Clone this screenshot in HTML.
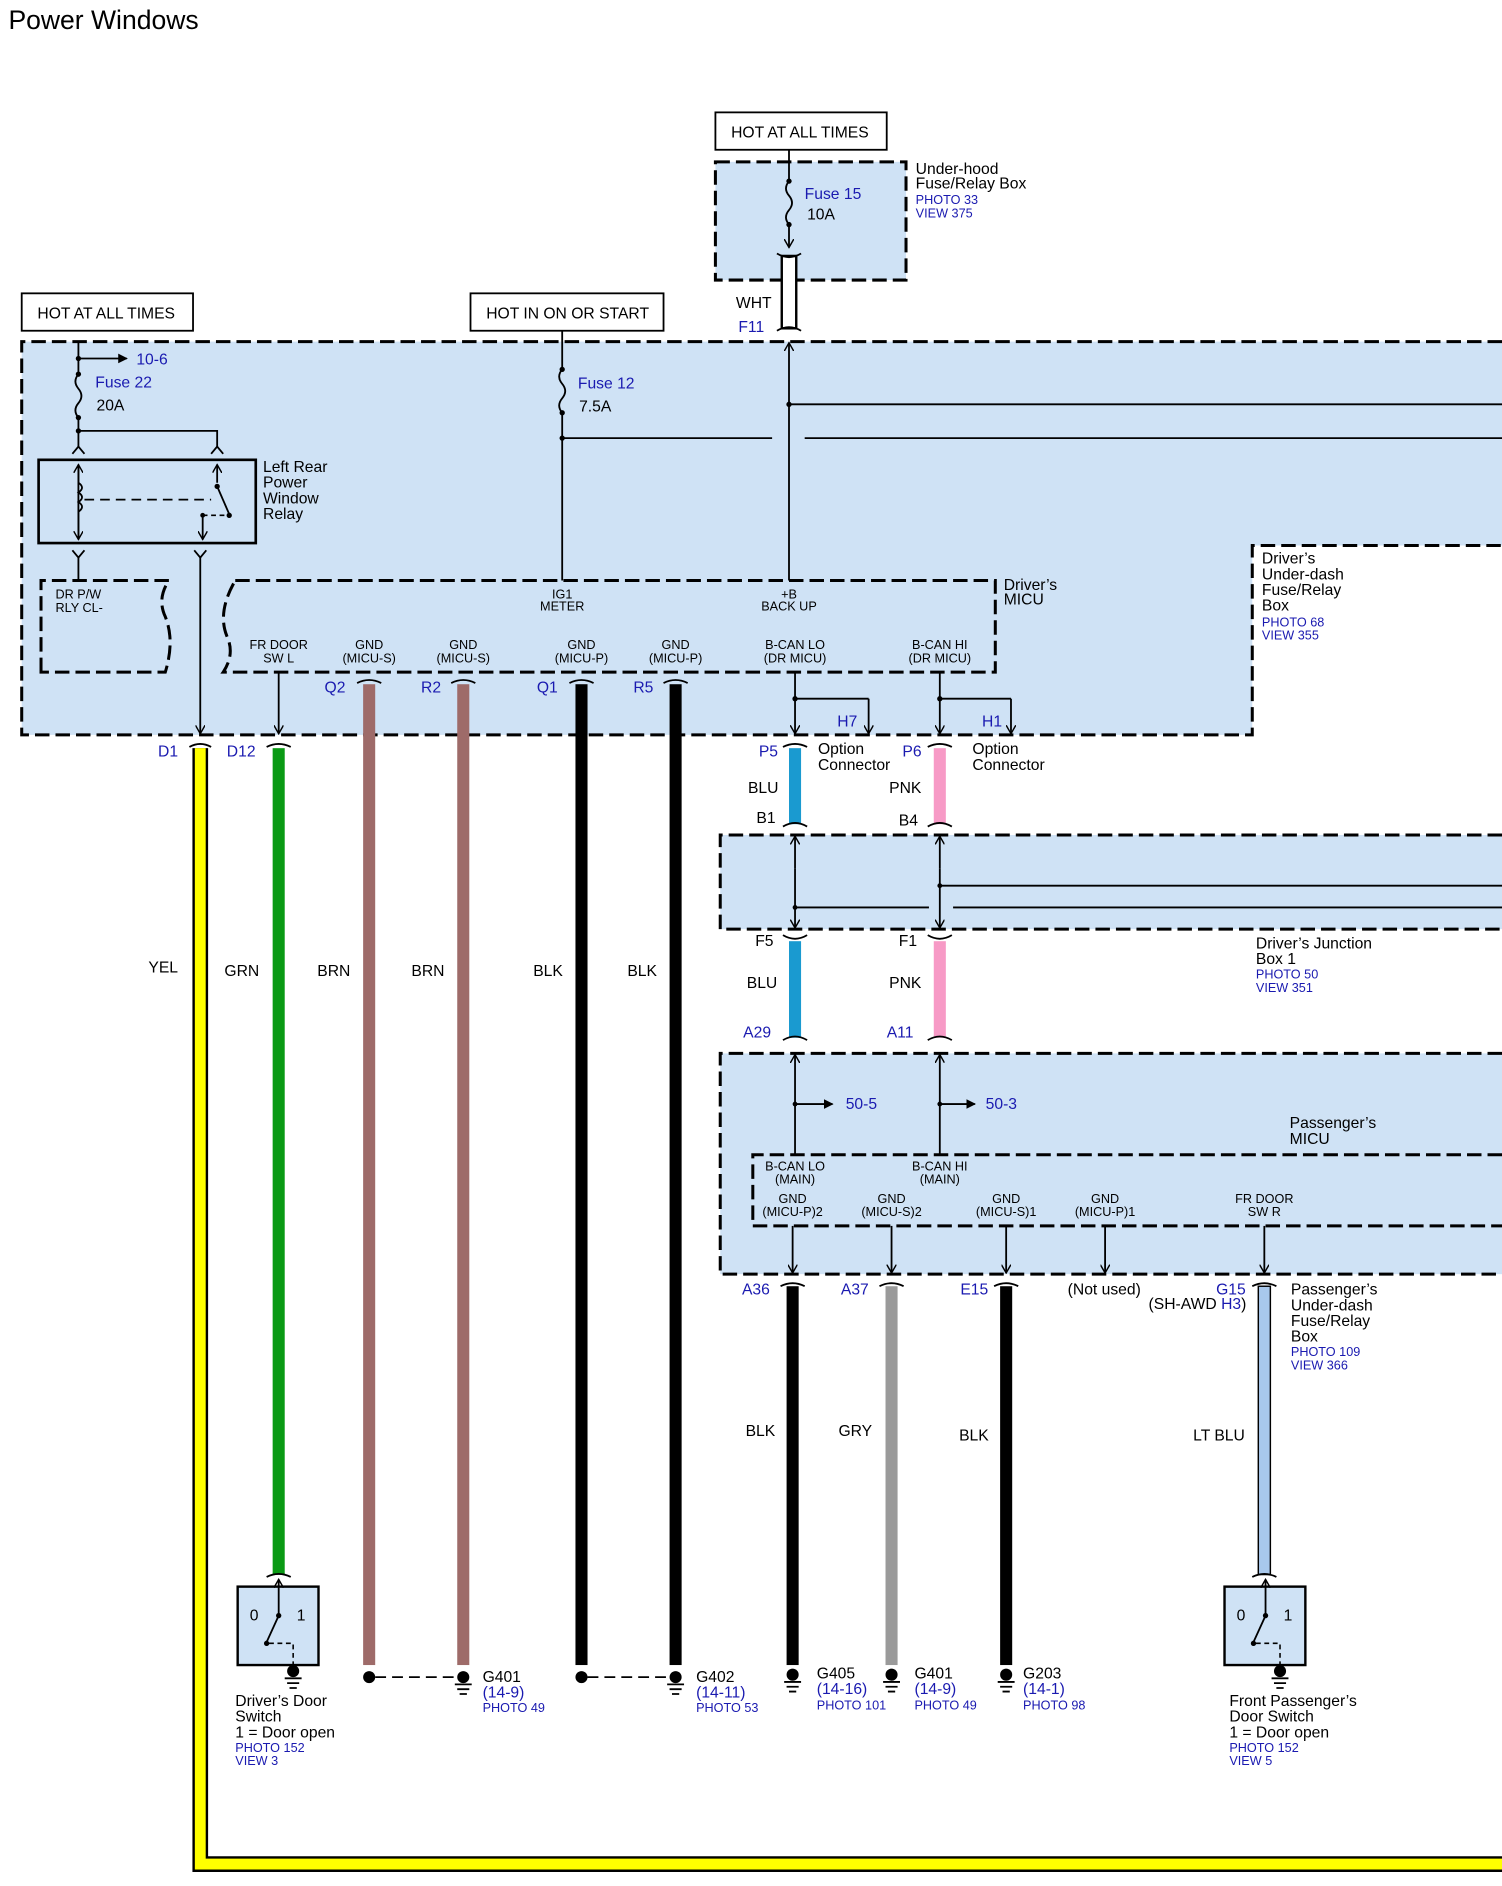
<!DOCTYPE html>
<html><head><meta charset="utf-8"><style>html,body{margin:0;padding:0;background:#fff}svg{display:block}</style></head><body>
<svg width="1502" height="1886" viewBox="0 0 1245 1563" xmlns="http://www.w3.org/2000/svg" font-family="Liberation Sans, Arial, sans-serif">
<defs>
<marker id="ar" markerWidth="8" markerHeight="8" refX="7" refY="4" orient="auto" markerUnits="userSpaceOnUse"><path d="M0,0 L7,4 L0,8" fill="none" stroke="#000" stroke-width="1.2"/></marker>
<marker id="af" markerWidth="8" markerHeight="8" refX="7" refY="4" orient="auto" markerUnits="userSpaceOnUse"><path d="M0,0 L8,4 L0,8Z" fill="#000"/></marker>
</defs>
<style>
.t{font-size:13px;fill:#000}
.b{font-size:13px;fill:#1a1ab0}
.s{font-size:10.5px;fill:#000}
.sb{font-size:10.5px;fill:#1a1ab0}
.ln{stroke:#000;stroke-width:1.5;fill:none}
.d{stroke:#000;stroke-width:2.5;fill:none;stroke-dasharray:12 5}
.bx{fill:#cfe2f5}
</style>
<text x="7" y="24" style="font-size:22px">Power Windows</text>

<!-- Under-hood -->
<rect x="593" y="93" width="142" height="31" fill="#fff" stroke="#000" stroke-width="1.5"/>
<text x="606" y="114" class="t">HOT AT ALL TIMES</text>
<rect x="593" y="134" width="158" height="98" class="bx"/>
<rect x="593" y="134" width="158" height="98" class="d"/>
<line x1="654" y1="124" x2="654" y2="150" class="ln"/>
<circle cx="654" cy="150" r="2.2"/>
<path d="M654,150 q-5,6 0,12 q5,6 0,12 q-5,6 0,12" class="ln"/>
<circle cx="654" cy="186" r="2.2"/>
<line x1="654" y1="186" x2="654" y2="205" class="ln" marker-end="url(#ar)"/>
<text x="667" y="165" class="b">Fuse 15</text><text x="669" y="182" class="t">10A</text>
<text x="759" y="144" class="t">Under-hood</text><text x="759" y="156" class="t">Fuse/Relay Box</text>
<text x="759" y="169" class="sb">PHOTO 33</text><text x="759" y="180" class="sb">VIEW 375</text>
<rect x="648" y="212" width="12" height="60" fill="#fff" stroke="#000" stroke-width="2"/>
<path d="M644,210 q10,6 20,0 M644,274 q10,-6 20,0" class="ln"/>
<text x="610" y="255" class="t">WHT</text><text x="612" y="275" class="b">F11</text>

<rect x="18" y="243" width="142" height="31" fill="#fff" stroke="#000" stroke-width="1.5"/>
<text x="31" y="264" class="t">HOT AT ALL TIMES</text>
<rect x="390" y="243" width="160" height="31" fill="#fff" stroke="#000" stroke-width="1.5"/>
<text x="403" y="264" class="t">HOT IN ON OR START</text>

<!-- Driver's under-dash box -->
<path d="M18,283 H1245 V452 H1038 V609 H18 Z" class="bx"/>
<path d="M1245,283 H18 V609 H1038 V452 H1245" class="d"/>
<text x="1046" y="467" class="t">Driver’s</text><text x="1046" y="480" class="t">Under-dash</text>
<text x="1046" y="493" class="t">Fuse/Relay</text><text x="1046" y="506" class="t">Box</text>
<text x="1046" y="519" class="sb">PHOTO 68</text><text x="1046" y="530" class="sb">VIEW 355</text>

<!-- Fuse 22 -->
<line x1="65" y1="283" x2="65" y2="310" class="ln"/>
<circle cx="65" cy="297" r="2.2"/>
<line x1="65" y1="297" x2="105" y2="297" class="ln" marker-end="url(#af)"/>
<text x="113" y="302" class="b">10-6</text>
<circle cx="65" cy="310" r="2.2"/>
<path d="M65,310 q-5,6 0,12 q5,6 0,12 q-5,6 0,12" class="ln"/>
<circle cx="65" cy="346" r="2.2"/>
<text x="79" y="321" class="b">Fuse 22</text><text x="80" y="340" class="t">20A</text>
<path d="M65,346 V370 M65,357 H180 V370" class="ln"/>
<circle cx="65" cy="357" r="2.2"/>
<path d="M60,376 l5,-6 l5,6 M175,376 l5,-6 l5,6" class="ln"/>
<rect x="32" y="381" width="180" height="69" fill="none" stroke="#000" stroke-width="2.2"/>
<line x1="65" y1="447" x2="65" y2="385" class="ln" marker-end="url(#ar)"/>
<path d="M65,400 q6,4 0,8 q6,4 0,8 q6,4 0,8" fill="#cfe2f5" stroke="#000" stroke-width="1.5"/>
<line x1="65" y1="385" x2="65" y2="447" class="ln" marker-end="url(#ar)"/>
<path d="M70,414 H175" stroke="#000" stroke-width="1.5" stroke-dasharray="8 5"/>
<line x1="180" y1="400" x2="180" y2="385" class="ln" marker-end="url(#ar)"/>
<circle cx="180" cy="403" r="2.2"/><path d="M180,403 L190,426" class="ln"/><circle cx="190" cy="427" r="2.2"/>
<path d="M168,427 H188" stroke="#000" stroke-width="1.3" stroke-dasharray="4 3"/>
<circle cx="168" cy="427" r="2"/>
<line x1="168" y1="427" x2="168" y2="447" class="ln" marker-end="url(#ar)"/>
<text x="218" y="391" class="t">Left Rear</text><text x="218" y="404" class="t">Power</text>
<text x="218" y="417" class="t">Window</text><text x="218" y="430" class="t">Relay</text>
<path d="M60,456 l5,6 l5,-6 M161,456 l5,6 l5,-6" class="ln"/>
<path d="M65,462 V481" class="ln"/>
<line x1="166" y1="462" x2="166" y2="608" class="ln" marker-end="url(#ar)"/>

<!-- DR P/W box -->
<path d="M34,557 V481 H140 q-10,15 -3,30 q8,20 0,46 Z" stroke="#000" stroke-width="2.5" fill="none" stroke-dasharray="12 5"/>
<text x="46" y="496" class="s">DR P/W</text><text x="46" y="507" class="s">RLY CL-</text>
<!-- Driver's MICU -->
<path d="M195,481 H825 V557 H185 q10,-15 3,-30 q-8,-20 7,-46" class="d"/>
<text x="832" y="489" class="t">Driver’s</text><text x="832" y="501" class="t">MICU</text>
<g text-anchor="middle" class="s" font-size="10.5">
<text x="466" y="496">IG1</text><text x="466" y="506">METER</text>
<text x="654" y="496">+B</text><text x="654" y="506">BACK UP</text>
<text x="231" y="538">FR DOOR</text><text x="231" y="549">SW L</text>
<text x="306" y="538">GND</text><text x="306" y="549">(MICU-S)</text>
<text x="384" y="538">GND</text><text x="384" y="549">(MICU-S)</text>
<text x="482" y="538">GND</text><text x="482" y="549">(MICU-P)</text>
<text x="560" y="538">GND</text><text x="560" y="549">(MICU-P)</text>
<text x="659" y="538">B-CAN LO</text><text x="659" y="549">(DR MICU)</text>
<text x="779" y="538">B-CAN HI</text><text x="779" y="549">(DR MICU)</text>
</g>
<!-- Fuse 12 -->
<path d="M466,274 V306" class="ln"/><circle cx="466" cy="306" r="2.2"/>
<path d="M466,306 q-5,6 0,12 q5,6 0,12 q-5,6 0,12" class="ln"/><circle cx="466" cy="342" r="2.2"/>
<path d="M466,342 V481 M466,363 H640 M667,363 H1245" class="ln"/><circle cx="466" cy="363" r="2.2"/>
<text x="479" y="322" class="b">Fuse 12</text><text x="480" y="341" class="t">7.5A</text>
<line x1="654" y1="481" x2="654" y2="284" class="ln" marker-end="url(#ar)"/>
<path d="M654,335 H1245" class="ln"/><circle cx="654" cy="335" r="2.2"/>

<!-- wires from MICU -->
<line x1="231" y1="557" x2="231" y2="608" class="ln" marker-end="url(#ar)"/>
<line x1="659" y1="557" x2="659" y2="608" class="ln" marker-end="url(#ar)"/>
<path d="M659,579 H720" class="ln"/><circle cx="659" cy="579" r="2.2"/>
<line x1="720" y1="579" x2="720" y2="608" class="ln" marker-end="url(#ar)"/>
<line x1="779" y1="557" x2="779" y2="608" class="ln" marker-end="url(#ar)"/>
<path d="M779,579 H838" class="ln"/><circle cx="779" cy="579" r="2.2"/>
<line x1="838" y1="579" x2="838" y2="608" class="ln" marker-end="url(#ar)"/>
<text x="694" y="602" class="b">H7</text><text x="814" y="602" class="b">H1</text>

<!-- thick wires -->
<path d="M166,620 V1545 H1245" stroke="#000" stroke-width="13" fill="none"/>
<path d="M166,620 V1545 H1245" stroke="#ffff00" stroke-width="9" fill="none"/>
<rect x="226" y="620" width="10" height="685" fill="#0a9a14"/>
<rect x="301" y="567" width="10" height="813" fill="#9e6b69"/>
<rect x="379" y="567" width="10" height="813" fill="#9e6b69"/>
<rect x="477" y="567" width="10" height="813" fill="#000"/>
<rect x="555" y="567" width="10" height="813" fill="#000"/>
<rect x="654" y="620" width="10" height="63" fill="#1a9ad0"/>
<rect x="774" y="620" width="10" height="63" fill="#f79ac6"/>
<rect x="654" y="780" width="10" height="80" fill="#1a9ad0"/>
<rect x="774" y="780" width="10" height="80" fill="#f79ac6"/>
<rect x="652" y="1066" width="10" height="314" fill="#000"/>
<rect x="734" y="1066" width="10" height="314" fill="#9a9a9a"/>
<rect x="829" y="1066" width="10" height="314" fill="#000"/>
<rect x="1043" y="1066" width="10" height="239" fill="#a8c8ec" stroke="#000" stroke-width="1.2"/>
<!-- connector caps -->
<g class="ln" stroke-width="2">
<path d="M157,619 q9,-5 18,0 M221,619 q10,-5 20,0 M296,566 q10,-5 20,0 M374,566 q10,-5 20,0 M472,566 q10,-5 20,0 M550,566 q10,-5 20,0"/>
<path d="M649,619 q10,-5 20,0 M769,619 q10,-5 20,0 M649,685 q10,-6 20,0 M769,685 q10,-6 20,0"/>
<path d="M649,775 q10,6 20,0 M769,775 q10,6 20,0 M649,862 q10,-6 20,0 M769,862 q10,-6 20,0"/>
<path d="M647,1066 q10,-5 20,0 M729,1066 q10,-5 20,0 M824,1066 q10,-5 20,0 M1038,1066 q10,-5 20,0 M221,1307 q10,-5 20,0 M1038,1307 q10,-5 20,0"/>
</g>
<g class="b">
<text x="131" y="627">D1</text><text x="188" y="627">D12</text>
<text x="269" y="574">Q2</text><text x="349" y="574">R2</text><text x="445" y="574">Q1</text><text x="525" y="574">R5</text>
<text x="629" y="627">P5</text><text x="748" y="627">P6</text>
<text x="616" y="860">A29</text><text x="735" y="860">A11</text>
<text x="615" y="1073">A36</text><text x="697" y="1073">A37</text><text x="796" y="1073">E15</text>
<text x="880" y="1050">E16</text><text x="1008" y="1073">G15</text>
</g>
<g class="t">
<text x="678" y="625">Option</text><text x="678" y="638">Connector</text>
<text x="806" y="625">Option</text><text x="806" y="638">Connector</text>
<text x="620" y="657">BLU</text><text x="737" y="657">PNK</text>
<text x="627" y="682">B1</text><text x="745" y="684">B4</text>
<text x="626" y="784">F5</text><text x="745" y="784">F1</text>
<text x="619" y="819">BLU</text><text x="737" y="819">PNK</text>
<text x="123" y="806">YEL</text><text x="186" y="809">GRN</text><text x="263" y="809">BRN</text><text x="341" y="809">BRN</text>
<text x="442" y="809">BLK</text><text x="520" y="809">BLK</text>
<text x="618" y="1190">BLK</text><text x="695" y="1190">GRY</text><text x="795" y="1194">BLK</text><text x="989" y="1194">LT BLU</text>
<text x="885" y="1073">(Not used)</text><text x="952" y="1085">(SH-AWD <tspan fill="#1a1ab0">H3</tspan>)</text>
</g>

<!-- Junction box -->
<rect x="597" y="692" width="648" height="78" class="bx"/>
<path d="M1245,692 H597 V770 H1245" class="d"/>
<line x1="659" y1="720" x2="659" y2="693" class="ln" marker-end="url(#ar)"/>
<line x1="659" y1="720" x2="659" y2="769" class="ln" marker-end="url(#ar)"/>
<line x1="779" y1="720" x2="779" y2="693" class="ln" marker-end="url(#ar)"/>
<line x1="779" y1="720" x2="779" y2="769" class="ln" marker-end="url(#ar)"/>
<path d="M659,752 H770 M790,752 H1245 M779,734 H1245" class="ln"/>
<circle cx="659" cy="752" r="2"/><circle cx="779" cy="734" r="2"/>
<text x="1041" y="786" class="t">Driver’s Junction</text><text x="1041" y="799" class="t">Box 1</text>
<text x="1041" y="811" class="sb">PHOTO 50</text><text x="1041" y="822" class="sb">VIEW 351</text>

<!-- Passenger MICU -->
<rect x="597" y="873" width="648" height="183" class="bx"/>
<path d="M1245,873 H597 V1056 H1245" class="d"/>
<path d="M1245,957 H624 V1016 H1245" class="d"/>
<line x1="659" y1="957" x2="659" y2="874" class="ln" marker-end="url(#ar)"/>
<line x1="779" y1="957" x2="779" y2="874" class="ln" marker-end="url(#ar)"/>
<line x1="659" y1="915" x2="690" y2="915" class="ln" marker-end="url(#af)"/><circle cx="659" cy="915" r="2"/>
<line x1="779" y1="915" x2="808" y2="915" class="ln" marker-end="url(#af)"/><circle cx="779" cy="915" r="2"/>
<text x="701" y="919" class="b">50-5</text><text x="817" y="919" class="b">50-3</text>
<text x="1069" y="935" class="t">Passenger’s</text><text x="1069" y="948" class="t">MICU</text>
<g text-anchor="middle" class="s" font-size="10.5">
<text x="659" y="970">B-CAN LO</text><text x="659" y="981">(MAIN)</text>
<text x="779" y="970">B-CAN HI</text><text x="779" y="981">(MAIN)</text>
<text x="657" y="997">GND</text><text x="657" y="1008">(MICU-P)2</text>
<text x="739" y="997">GND</text><text x="739" y="1008">(MICU-S)2</text>
<text x="834" y="997">GND</text><text x="834" y="1008">(MICU-S)1</text>
<text x="916" y="997">GND</text><text x="916" y="1008">(MICU-P)1</text>
<text x="1048" y="997">FR DOOR</text><text x="1048" y="1008">SW R</text>
</g>
<g>
<line x1="657" y1="1016" x2="657" y2="1055" class="ln" marker-end="url(#ar)"/>
<line x1="739" y1="1016" x2="739" y2="1055" class="ln" marker-end="url(#ar)"/>
<line x1="834" y1="1016" x2="834" y2="1055" class="ln" marker-end="url(#ar)"/>
<line x1="916" y1="1016" x2="916" y2="1055" class="ln" marker-end="url(#ar)"/>
<line x1="1048" y1="1016" x2="1048" y2="1055" class="ln" marker-end="url(#ar)"/>
</g>
<text x="1070" y="1073" class="t">Passenger’s</text><text x="1070" y="1086" class="t">Under-dash</text>
<text x="1070" y="1099" class="t">Fuse/Relay</text><text x="1070" y="1112" class="t">Box</text>
<text x="1070" y="1124" class="sb">PHOTO 109</text><text x="1070" y="1135" class="sb">VIEW 366</text>

<!-- switches -->
<g id="sw">
<rect x="197" y="1315" width="67" height="65" fill="#cfe2f5" stroke="#000" stroke-width="2"/>
<line x1="231" y1="1338" x2="231" y2="1309" class="ln" marker-end="url(#ar)"/>
<circle cx="231" cy="1339" r="2.2"/><path d="M231,1339 L221,1361" class="ln"/><circle cx="221" cy="1362" r="2.2"/>
<path d="M223,1362 H243 V1385" stroke="#000" stroke-width="1.3" fill="none" stroke-dasharray="4 3"/>
<text x="207" y="1343" class="t">0</text><text x="246" y="1343" class="t">1</text>
<circle cx="243" cy="1385" r="5"/><path d="M236,1391 H250 M238,1395 H248 M240,1399 H246" class="ln" stroke-width="1.2"/>
</g>
<use href="#sw" transform="translate(818,0)"/>
<text x="195" y="1414" class="t">Driver’s Door</text><text x="195" y="1427" class="t">Switch</text>
<text x="195" y="1440" class="t">1 = Door open</text><text x="195" y="1452" class="sb">PHOTO 152</text><text x="195" y="1463" class="sb">VIEW 3</text>
<text x="1019" y="1414" class="t">Front Passenger’s</text><text x="1019" y="1427" class="t">Door Switch</text>
<text x="1019" y="1440" class="t">1 = Door open</text><text x="1019" y="1452" class="sb">PHOTO 152</text><text x="1019" y="1463" class="sb">VIEW 5</text>

<!-- grounds -->
<circle cx="306" cy="1390" r="5"/><circle cx="482" cy="1390" r="5"/>
<path d="M311,1390 H379 M487,1390 H555" stroke="#000" stroke-width="1.5" stroke-dasharray="9 5"/>
<g id="gd"><circle cx="384" cy="1390" r="5"/><path d="M377,1396 H391 M379,1400 H389 M381,1404 H387" class="ln" stroke-width="1.2"/></g>
<use href="#gd" transform="translate(176,0)"/>
<use href="#gd" transform="translate(273,-2)"/>
<use href="#gd" transform="translate(355,-2)"/>
<use href="#gd" transform="translate(450,-2)"/>
<text x="400" y="1394" class="t">G401</text><text x="400" y="1407" class="b">(14-9)</text><text x="400" y="1419" class="sb">PHOTO 49</text>
<text x="577" y="1394" class="t">G402</text><text x="577" y="1407" class="b">(14-11)</text><text x="577" y="1419" class="sb">PHOTO 53</text>
<text x="677" y="1391" class="t">G405</text><text x="677" y="1404" class="b">(14-16)</text><text x="677" y="1417" class="sb">PHOTO 101</text>
<text x="758" y="1391" class="t">G401</text><text x="758" y="1404" class="b">(14-9)</text><text x="758" y="1417" class="sb">PHOTO 49</text>
<text x="848" y="1391" class="t">G203</text><text x="848" y="1404" class="b">(14-1)</text><text x="848" y="1417" class="sb">PHOTO 98</text>
</svg>
</body></html>
